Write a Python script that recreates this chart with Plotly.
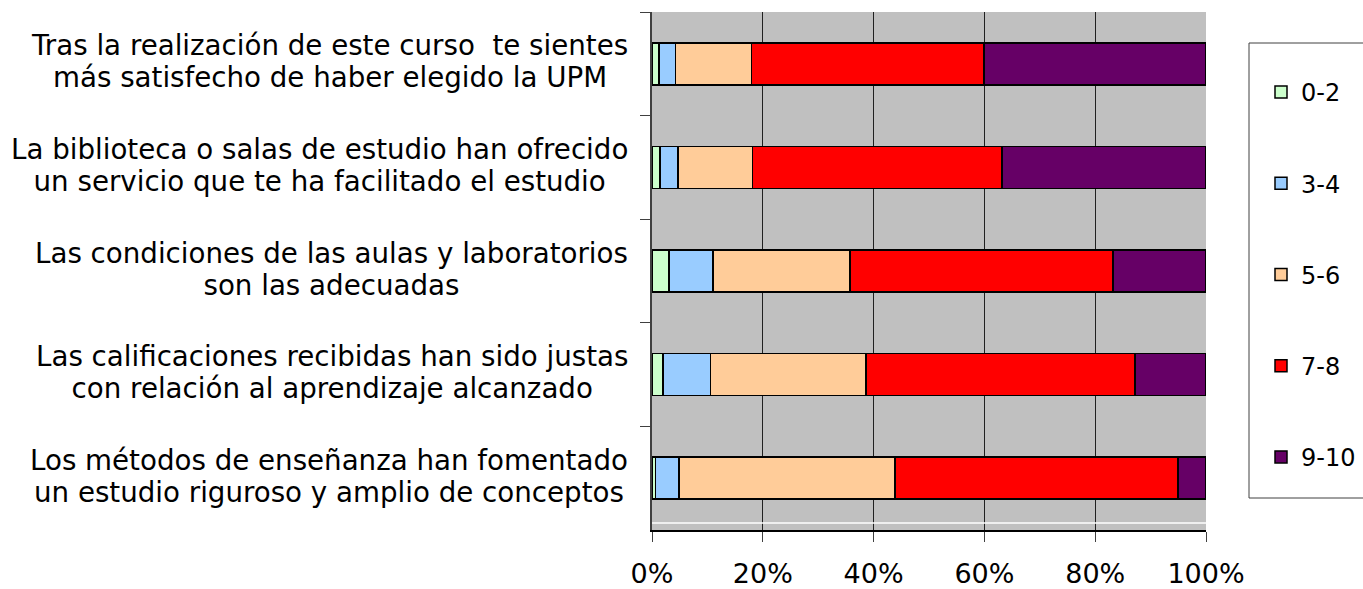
import plotly.graph_objects as go

label_lines = [
    ("Tras la realización de este curso  te sientes", "más satisfecho de haber elegido la UPM"),
    ("La biblioteca o salas de estudio han ofrecido", "un servicio que te ha facilitado el estudio"),
    ("Las condiciones de las aulas y laboratorios", "son las adecuadas"),
    ("Las calificaciones recibidas han sido justas", "con relación al aprendizaje alcanzado"),
    ("Los métodos de enseñanza han fomentado", "un estudio riguroso y amplio de conceptos"),
]
categories = [a + "<br>" + b for a, b in label_lines]
series_names = ["0-2", "3-4", "5-6", "7-8", "9-10"]
s_0_2 = [1.3, 1.4, 3.1, 2.0, 0.6]
s_3_4 = [2.9, 3.3, 7.9, 8.6, 4.3]
s_5_6 = [13.8, 13.4, 24.7, 28.0, 39.0]
s_7_8 = [41.9, 45.1, 47.5, 48.6, 51.0]
s_9_10 = [40.1, 36.8, 16.8, 12.8, 5.1]
series_values = [s_0_2, s_3_4, s_5_6, s_7_8, s_9_10]
colors = ["#CCFFCC", "#99CCFF", "#FFCC99", "#FF0000", "#660066"]
x_ticks = [0, 20, 40, 60, 80, 100]
x_ticktext = ["0%", "20%", "40%", "60%", "80%", "100%"]

FONT = "DejaVu Sans, Verdana, sans-serif"

fig = go.Figure()
for name, vals, col in zip(series_names, series_values, colors):
    fig.add_trace(go.Bar(
        y=categories, x=vals, name=name, orientation="h",
        marker=dict(color=col, line=dict(color="black", width=1.5)),
        legendgroup=name,
    ))

W, H = 1363, 589
L, R, T, B = 652, 1206, 12, 530

fig.update_layout(
    width=W, height=H,
    margin=dict(l=L, r=W - R, t=T, b=H - B, autoexpand=False),
    barmode="stack", bargap=0.595,
    plot_bgcolor="#C0C0C0", paper_bgcolor="white",
    font=dict(family=FONT, color="black"),
    showlegend=True,
    legend=dict(
        x=(1261 - L) / (R - L), y=(B - 70) / (B - T),
        xanchor="left", yanchor="top",
        font=dict(size=24, family=FONT),
        traceorder="grouped", tracegroupgap=57,
        bgcolor="rgba(0,0,0,0)", borderwidth=0,
    ),
    xaxis=dict(
        range=[0, 100], tickvals=x_ticks, ticktext=x_ticktext,
        showgrid=True, gridcolor="#202020", gridwidth=1,
        ticks="outside", ticklen=10, tickcolor="#404040",
        showline=True, linecolor="black", linewidth=1.5,
        tickfont=dict(size=27, family=FONT), ticklabelstandoff=9,
        zeroline=False, fixedrange=True,
    ),
    yaxis=dict(
        autorange="reversed", showticklabels=False,
        ticks="outside", ticklen=10, tickcolor="#404040", tickson="boundaries",
        showline=True, linecolor="#404040", linewidth=2,
        showgrid=False, fixedrange=True,
    ),
)

SPAN = "<span style='font-size:27.7px'>{}</span>"
for c, (a, b) in zip(categories, label_lines):
    fig.add_annotation(
        x=(630 - L) / (R - L), xref="paper", y=c, yref="y",
        text=SPAN.format(a) + "<br>" + SPAN.format(b),
        showarrow=False, xanchor="right", yanchor="middle", yshift=2,
        align="center", font=dict(size=24.3, family=FONT, color="black"),
    )

# legend frame
fig.add_shape(type="rect", xref="paper", yref="paper",
              x0=(1249 - L) / (R - L), x1=(1370 - L) / (R - L),
              y0=(B - 498) / (B - T), y1=(B - 43) / (B - T),
              line=dict(color="#404040", width=1), fillcolor="rgba(0,0,0,0)")
# thin white line near bottom of plot area
fig.add_shape(type="line", xref="paper", yref="paper",
              x0=0, x1=1, y0=(B - 523) / (B - T), y1=(B - 523) / (B - T),
              line=dict(color="white", width=1.5))

fig.write_html(
    "out.html",
    config={"displayModeBar": False},
    post_script="document.body.style.margin='0';document.body.style.overflow='hidden';",
)
